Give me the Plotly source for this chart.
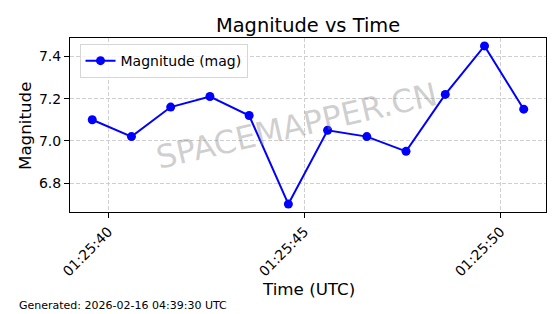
import plotly.graph_objects as go

times = ["2026-02-16 01:25:39.590", "2026-02-16 01:25:40.590", "2026-02-16 01:25:41.590",
         "2026-02-16 01:25:42.590", "2026-02-16 01:25:43.590", "2026-02-16 01:25:44.590",
         "2026-02-16 01:25:45.590", "2026-02-16 01:25:46.590", "2026-02-16 01:25:47.590",
         "2026-02-16 01:25:48.590", "2026-02-16 01:25:49.590", "2026-02-16 01:25:50.590"]
magnitudes = [7.10, 7.02, 7.16, 7.21, 7.12, 6.70, 7.05, 7.02, 6.95, 7.22, 7.45, 7.15]
x_tick_vals = ["2026-02-16 01:25:40", "2026-02-16 01:25:45", "2026-02-16 01:25:50"]
x_tick_text = ["01:25:40", "01:25:45", "01:25:50"]
y_tick_vals = [6.8, 7.0, 7.2, 7.4]

FONT = "DejaVu Sans"
GRID = "#cfcfcf"

fig = go.Figure()
fig.add_trace(go.Scatter(
    x=times, y=magnitudes, mode="lines+markers", name="Magnitude (mag)",
    line=dict(color="#0000ff", width=2),
    marker=dict(color="#0000ff", size=9),
))

L, R, T, B = 70, 14, 38, 102
fig.update_layout(
    width=560, height=314,
    margin=dict(l=L, r=R, t=T, b=B),
    paper_bgcolor="white", plot_bgcolor="white",
    font=dict(family=FONT, color="black", size=14),
    showlegend=True,
    legend=dict(x=0.02, y=0.965, xanchor="left", yanchor="top",
                bordercolor="#d6d6d6", borderwidth=1, bgcolor="rgba(255,255,255,0.8)",
                font=dict(size=14, family=FONT)),
    xaxis=dict(
        type="date",
        range=["2026-02-16 01:25:39.023", "2026-02-16 01:25:51.158"],
        tickvals=x_tick_vals, ticktext=x_tick_text, tickangle=-45,
        ticks="outside", ticklen=5, tickcolor="black",
        showline=True, linecolor="black", linewidth=1, mirror=True,
        showgrid=True, gridcolor=GRID, griddash="4px,2px", gridwidth=1,
        tickfont=dict(size=14, family=FONT),
        zeroline=False,
    ),
    yaxis=dict(
        range=[6.6625, 7.4875],
        tickvals=y_tick_vals, tickformat=".1f",
        ticks="outside", ticklen=5, tickcolor="black",
        showline=True, linecolor="black", linewidth=1, mirror=True,
        showgrid=True, gridcolor=GRID, griddash="4px,2px", gridwidth=1,
        tickfont=dict(size=14, family=FONT),
        zeroline=False,
    ),
)

pw = 560 - L - R
ph = 314 - T - B

def px(xp):
    return (xp - L) / pw

def py(yp):
    return (314 - B - yp) / ph

fig.add_annotation(text="Magnitude vs Time", xref="paper", yref="paper",
                   x=px(308), y=py(25), xanchor="center", yanchor="middle",
                   showarrow=False, font=dict(size=19.4, family=FONT))
fig.add_annotation(text="Time (UTC)", xref="paper", yref="paper",
                   x=px(308), y=py(289), xanchor="center", yanchor="middle",
                   showarrow=False, font=dict(size=16.7, family=FONT))
fig.add_annotation(text="Magnitude", xref="paper", yref="paper",
                   x=px(25), y=py(126), xanchor="center", yanchor="middle", textangle=-90,
                   showarrow=False, font=dict(size=16.7, family=FONT))
fig.add_annotation(text="Generated: 2026-02-16 04:39:30 UTC", xref="paper", yref="paper",
                   x=px(17), y=py(305), xanchor="left", yanchor="middle",
                   showarrow=False, font=dict(size=11, family=FONT))
fig.add_annotation(text="SPACEMAPPER.CN", xref="paper", yref="paper",
                   x=px(296), y=py(126), xanchor="center", yanchor="middle", textangle=-13,
                   showarrow=False, font=dict(size=32, family=FONT, color="rgba(128,128,128,0.38)"))

fig.write_html("out.html")
